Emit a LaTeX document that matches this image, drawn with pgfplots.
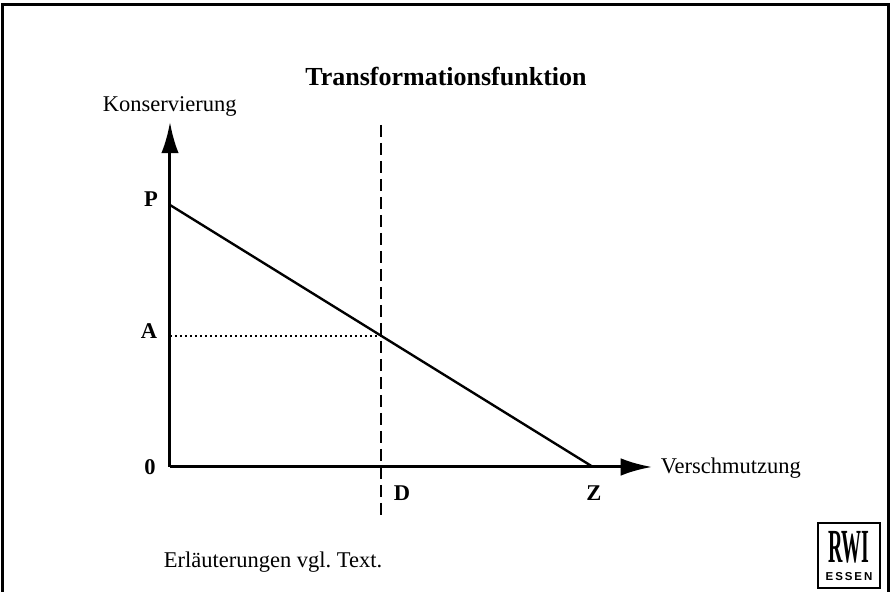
\documentclass[border=0pt]{standalone}
\usepackage{fontspec}
\setmainfont{Liberation Serif}
\newfontfamily\logosans{Liberation Sans}
\usepackage{pgfplots}
\pgfplotsset{compat=1.18}
\usetikzlibrary{arrows.meta}
\newcommand{\lab}{\fontsize{9}{10}\selectfont}
\begin{document}
\begin{tikzpicture}
\begin{axis}[
  at={(68pt,50pt)}, anchor=south west,
  scale only axis, width=192.8pt, height=138pt,
  xmin=170, xmax=652, ymin=125, ymax=470,
  axis lines=left,
  x axis line style={line width=1.2pt, -{Latex[length=12.5pt,width=7pt]}},
  y axis line style={line width=1.2pt, -{Latex[length=12.5pt,width=7pt]}},
  xtick=\empty, ytick=\empty,
  clip=false,
]
% Transformationsfunktion P -> Z
\addplot[line width=0.95pt] coordinates {(170,387) (593,125)};
% D
\addplot[line width=0.6pt, dash pattern=on 5pt off 2.2pt] coordinates {(381,467) (381,74)};
% A
\addplot[line width=0.75pt, dash pattern=on 0.7pt off 1.3pt] coordinates {(170,256) (381,256)};

\node[font=\fontsize{10.4}{12}\selectfont\bfseries] at (axis cs:446,515) {Transformationsfunktion};
\node[font=\lab, anchor=west] at (axis cs:94,486) {Konservierung};
\node[font=\lab, anchor=west] at (axis cs:652,124) {Verschmutzung};
\node[font=\lab\bfseries] at (axis cs:151,393) {P};
\node[font=\lab\bfseries] at (axis cs:149,261) {A};
\node[font=\lab\bfseries] at (axis cs:150,125) {0};
\node[font=\lab\bfseries] at (axis cs:402,99) {D};
\node[font=\lab\bfseries] at (axis cs:594,99) {Z};
\node[font=\lab, anchor=west] at (axis cs:155,30) {Erläuterungen vgl.\ Text.};

% RWI logo
\draw[line width=1pt] (axis cs:818,4) rectangle (axis cs:880,69);
\node[font=\fontsize{19}{19}\selectfont\bfseries] at (axis cs:849,45) {\scalebox{0.42}[1]{RWI}};
\node[font=\logosans\fontsize{4.6}{5}\selectfont\bfseries] at (axis cs:849,15) {E\,S\,S\,E\,N};

% frame
\draw[line width=1.2pt] (axis cs:3,0) -- (axis cs:3,587) -- (axis cs:889,587) -- (axis cs:889,0);
\path (axis cs:0,0) rectangle (axis cs:891,592);
\end{axis}
\end{tikzpicture}
\end{document}
